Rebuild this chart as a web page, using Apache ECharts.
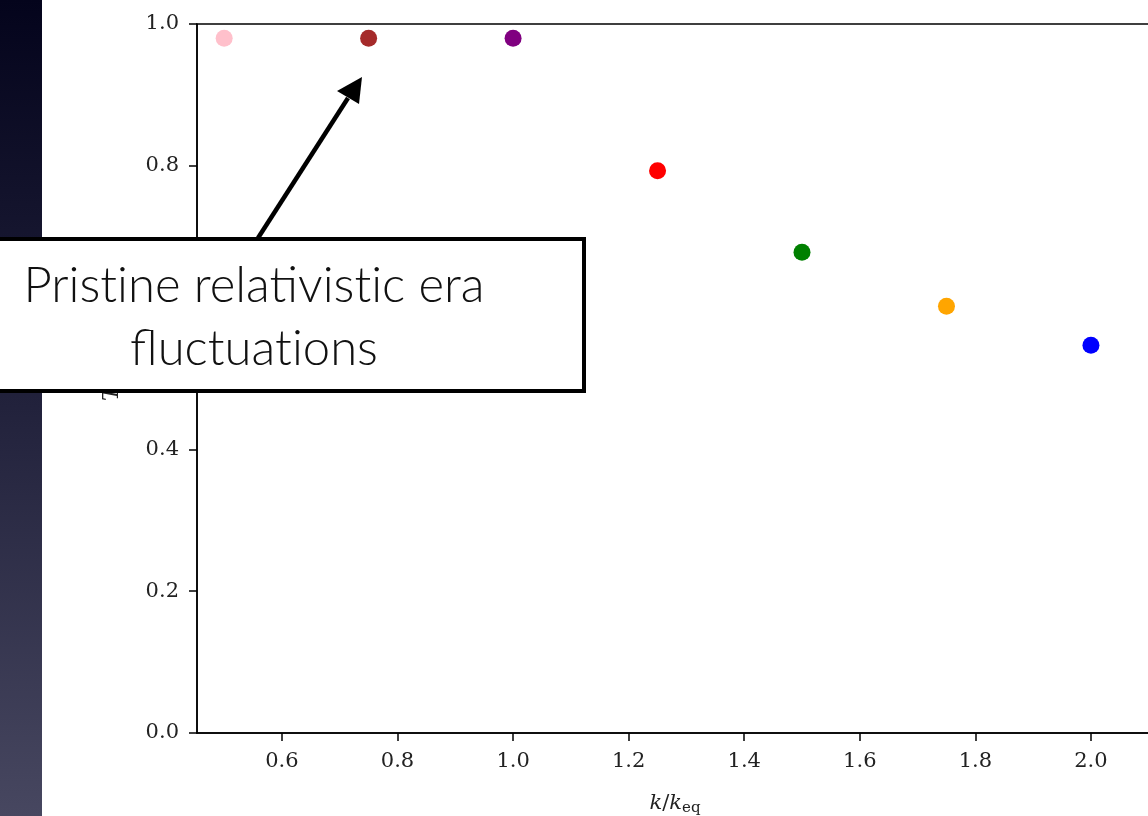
<!DOCTYPE html>
<html><head><meta charset="utf-8">
<script src="https://cdn.jsdelivr.net/npm/echarts@6/dist/echarts.min.js"></script>
<style>html,body{margin:0;padding:0;background:#fff}#c{width:1148px;height:816px}</style>
</head><body><div id="c"></div>
<script>
const kValues = [0.5, 0.75, 1.0, 1.25, 1.5, 1.75, 2.0];
const tValues = [0.98, 0.98, 0.98, 0.793, 0.678, 0.602, 0.547];
const pointColors = ['#ffc0cb', '#a52a2a', '#800080', '#ff0000', '#008000', '#ffa500', '#0000ff'];
const xTicks = [0.6, 0.8, 1.0, 1.2, 1.4, 1.6, 1.8, 2.0];
// annotation text; "t" placed in its own rich segment so the font does not form a "ti" ligature
const annotationLines = ['Pris{n|t}ine relativis{n|t}ic era', 'fluctua{n|t}ions'];

const chart = echarts.init(document.getElementById('c'), null, {renderer: 'canvas'});
const tickFont = {fontFamily: 'DejaVu Serif', fontSize: 21, color: '#222'};
const boxFont = {fontFamily: 'Lato', fontWeight: 300, fontSize: 49, fill: '#111'};
chart.setOption({
  backgroundColor: '#fff',
  animation: false,
  grid: {left: 197, top: 24, right: -5, bottom: 83, outerBoundsMode: 'none', containLabel: false,
         show: true, borderColor: '#000', borderWidth: 1.5, backgroundColor: 'transparent'},
  xAxis: {
    type: 'value', min: 0.453, max: 2.1074,
    splitLine: {show: false},
    axisLine: {onZero: false, lineStyle: {color: '#000', width: 1.5}},
    axisTick: {show: true, length: 8, lineStyle: {color: '#000', width: 1.5}, customValues: xTicks},
    axisLabel: Object.assign({margin: 18, customValues: xTicks, formatter: v => v.toFixed(1)}, tickFont),
    name: '{i|k}/{i|k}{s|eq}', nameLocation: 'middle', nameGap: 58,
    nameTextStyle: {rich: {
      i: {fontFamily: 'DejaVu Serif', fontStyle: 'italic', fontSize: 21, color: '#222'},
      s: {fontFamily: 'DejaVu Serif', fontSize: 15, color: '#222', verticalAlign: 'bottom', padding: [10, 0, 0, 0]}
    }, fontFamily: 'DejaVu Serif', fontSize: 21, color: '#222'}
  },
  yAxis: {
    type: 'value', min: 0, max: 1, interval: 0.2,
    splitLine: {show: false},
    axisLine: {show: true, lineStyle: {color: '#000', width: 1.5}},
    axisTick: {show: true, length: 8, lineStyle: {color: '#000', width: 1.5}},
    axisLabel: Object.assign({margin: 18, formatter: v => v.toFixed(1)}, tickFont),
    name: 'T(k)', nameLocation: 'middle', nameGap: 74,
    nameTextStyle: {fontFamily: 'DejaVu Serif', fontStyle: 'italic', fontSize: 22, color: '#222'}
  },
  series: [{
    type: 'scatter',
    symbolSize: 17,
    data: kValues.map((k, i) => ({value: [k, tValues[i]], itemStyle: {color: pointColors[i], opacity: 1}})),
    z: 5
  }],
  graphic: [
    {type: 'rect', z: 1, silent: true, shape: {x: 0, y: 0, width: 42, height: 816},
     style: {fill: new echarts.graphic.LinearGradient(0, 0, 0, 1, [{offset: 0, color: '#04041c'}, {offset: 0.5, color: '#22223c'}, {offset: 1, color: '#474760'}])}},
    {type: 'line', z: 100, silent: true, shape: {x1: 258, y1: 238, x2: 348, y2: 98},
     style: {stroke: '#000', lineWidth: 4.5}},
    {type: 'polygon', z: 100, silent: true, shape: {points: [[362, 77], [337, 91], [359, 104]]},
     style: {fill: '#000'}},
    {type: 'rect', z: 100, silent: true, shape: {x: -80, y: 239, width: 664, height: 152},
     style: {fill: '#fff', stroke: '#000', lineWidth: 4}},
    {type: 'text', z: 101, silent: true, x: 254, y: 286,
     style: Object.assign({text: annotationLines[0], align: 'center', verticalAlign: 'middle', rich: {n: Object.assign({}, boxFont)}}, boxFont)},
    {type: 'text', z: 101, silent: true, x: 254, y: 349,
     style: Object.assign({text: annotationLines[1], align: 'center', verticalAlign: 'middle', rich: {n: Object.assign({}, boxFont)}}, boxFont)}
  ]
});
</script></body></html>
